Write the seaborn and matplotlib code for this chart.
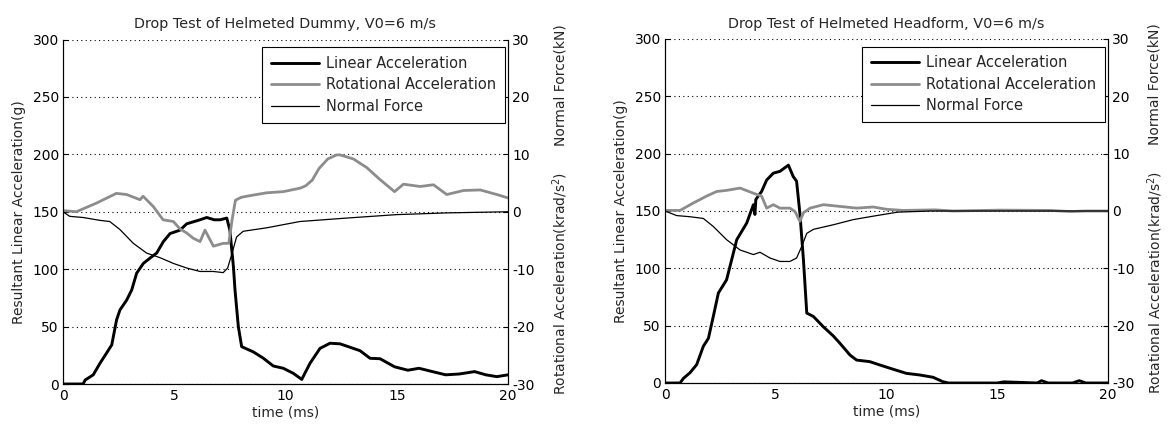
import matplotlib
matplotlib.use("Agg")
import matplotlib.pyplot as plt
import seaborn as sns

# helmeted dummy, V0 = 6 m/s
dummy_lin_t = [0, 0.9, 1.0, 1.36, 1.66, 1.96, 2.19, 2.41, 2.56, 2.86, 3.09, 3.31, 3.61, 4.0, 4.21,
               4.51, 4.81, 5.26, 5.56, 6.16, 6.46, 6.8, 7.06, 7.36, 7.5, 7.66, 7.73, 7.88, 8.03, 8.55,
               9.0, 9.45, 9.9, 10.35, 10.73, 11.1, 11.55, 12.0, 12.45, 12.9, 13.35, 13.8, 14.25, 14.9,
               15.5, 16.0, 16.6, 17.2, 17.8, 18.5, 19.0, 19.5, 20]
dummy_lin_v = [0, 0, 3.5, 8, 18, 27, 34, 56, 64.5, 73, 82, 96.5, 105, 111, 114,
               124, 131, 134, 139.5, 143, 145, 143, 143, 144.5, 134, 102, 82, 50, 32.5, 28,
               22.5, 15.7, 13.7, 9.3, 4, 18, 31, 35.5, 35, 32, 29, 22.4, 22, 15,
               12, 13.7, 10.8, 8, 8.7, 10.8, 8, 6.4, 8]

dummy_rot_t = [0, 0.6, 1.5, 2.4, 2.86, 3.46, 3.6, 4.06, 4.5, 4.96, 5.26, 5.56, 5.85, 6.16, 6.38,
               6.76, 7.2, 7.45, 7.6, 7.75, 8.0, 8.25, 9.15, 9.9, 10.65, 10.9, 11.2, 11.5, 11.9,
               12.3, 12.45, 13.05, 13.65, 14.25, 14.9, 15.3, 16.05, 16.65, 17.25, 18.0, 18.75,
               19.5, 20]
dummy_rot_v = [0.2, 0, 1.5, 3.2, 3.0, 2.1, 2.7, 0.9, -1.4, -1.7, -3.0, -3.7, -4.6, -5.2, -3.2,
               -6.0, -5.5, -5.5, -1.4, 2.0, 2.5, 2.7, 3.3, 3.5, 4.1, 4.5, 5.5, 7.5, 9.2,
               9.9, 9.9, 9.2, 7.7, 5.6, 3.5, 4.8, 4.4, 4.7, 3.0, 3.7, 3.8,
               3.0, 2.4]

dummy_force_t = [0, 0.3, 0.9, 1.66, 2.1, 2.56, 3.16, 3.76, 4.36, 4.96, 5.56, 6.16, 6.76, 7.2,
                 7.4, 7.6, 7.8, 8.1, 9.15, 10.65, 12.75, 15, 17.25, 20]
dummy_force_v = [0, -0.8, -1.0, -1.5, -1.7, -3.1, -5.5, -7.2, -8.0, -9.0, -9.8, -10.4, -10.4, -10.6,
                 -9.8, -7.2, -4.4, -3.4, -2.8, -1.7, -1.1, -0.5, -0.2, 0]

# helmeted headform, V0 = 6 m/s
head_lin_t = [0, 0.68, 0.83, 1.13, 1.43, 1.73, 1.96, 2.18, 2.41, 2.78, 3.24, 3.69, 3.99, 4.06,
              4.1, 4.36, 4.59, 4.89, 5.19, 5.57, 5.79, 5.94, 6.09, 6.25, 6.4, 6.7, 7.15, 7.6,
              7.9, 8.35, 8.65, 9.25, 9.7, 10.3, 10.9, 11.5, 12.1, 12.55, 12.8, 15.0, 15.3, 16.8,
              17.0, 17.3, 18.4, 18.7, 19.0, 20]
head_lin_v = [0, 0, 4, 9, 16, 32, 39, 58, 78.5, 90, 125, 139.5, 155.5, 147,
              160, 167, 177, 183, 184.6, 190, 180, 176, 148, 107.5, 61, 58, 49, 41,
              34.6, 24.4, 20, 18.6, 15.7, 12, 8.4, 7, 5, 1.1, 0, 0, 1, 0,
              2, 0, 0, 2, 0, 0]

head_rot_t = [0, 0.68, 1.28, 1.88, 2.33, 2.78, 3.39, 3.99, 4.36, 4.59, 4.89, 5.19, 5.64, 5.87,
              6.09, 6.25, 6.55, 7.15, 7.9, 8.65, 9.4, 10.0, 10.75, 12.2, 13.0, 15.1, 17.4,
              18.3, 19.0, 20]
head_rot_v = [0.1, 0.1, 1.4, 2.6, 3.4, 3.6, 4.0, 3.1, 2.6, 0.5, 1.1, 0.5, 0.5, -0.1,
              -1.8, -0.3, 0.5, 1.1, 0.8, 0.5, 0.7, 0.3, 0.1, 0.2, 0, 0.15, 0.1,
              -0.1, 0, 0]

head_force_t = [0, 0.53, 1.13, 1.73, 2.18, 2.78, 3.39, 3.99, 4.29, 4.74, 5.19, 5.64, 5.94, 6.17,
                6.4, 6.7, 7.6, 8.5, 9.4, 10.5, 12, 20]
head_force_v = [0, -0.8, -1.0, -1.3, -2.7, -5.0, -6.8, -7.6, -7.2, -8.2, -8.8, -8.8, -8.2, -6.2,
                -3.9, -3.2, -2.4, -1.5, -0.9, -0.2, 0, 0]

titles = ["Drop Test of Helmeted Dummy, V0=6 m/s", "Drop Test of Helmeted Headform, V0=6 m/s"]

sns.set_style("white")
plt.rcParams["font.family"] = ["DejaVu Sans"]
plt.rcParams["axes.unicode_minus"] = False
FS = 10


def draw_panel(ax, title, lin_t, lin_v, rot_t, rot_v, frc_t, frc_v, lab_x):
    ax2 = ax.twinx()
    sns.lineplot(x=lin_t, y=lin_v, ax=ax, color="black", linewidth=2.1,
                 label="Linear Acceleration", legend=False)
    sns.lineplot(x=rot_t, y=rot_v, ax=ax2, color="#8c8c8c", linewidth=2.0,
                 label="Rotational Acceleration", legend=False)
    sns.lineplot(x=frc_t, y=frc_v, ax=ax2, color="black", linewidth=0.9,
                 label="Normal Force", legend=False)

    ax.set_xlim(0, 20)
    ax.set_ylim(0, 300)
    ax2.set_ylim(-30, 30)
    ax.set_xticks([0, 5, 10, 15, 20])
    ax.set_yticks(range(0, 301, 50))
    ax2.set_yticks(range(-30, 31, 10))

    ax.grid(axis="y", color="black", linestyle=(0, (1, 3)), linewidth=0.8)
    ax.grid(axis="x", visible=False)
    ax2.grid(False)
    for a in (ax, ax2):
        a.spines["top"].set_visible(False)
        for s in a.spines.values():
            s.set_color("black")
            s.set_linewidth(0.8)
        a.tick_params(direction="in", length=3.5, width=0.8, colors="black", labelsize=FS)
    ax.tick_params(axis="y", pad=3)
    ax2.tick_params(axis="y", pad=3)

    ax.set_title(title, fontsize=10.4, pad=8)
    ax.set_xlabel("time (ms)", fontsize=FS, labelpad=2)
    ax.set_ylabel("Resultant Linear Acceleration(g)", fontsize=FS)
    ax.yaxis.set_label_coords(-0.083, 0.5)
    ax2.set_ylabel("")
    ax2.text(lab_x, 0.868, "Normal Force(kN)", transform=ax2.transAxes, rotation=90,
             ha="center", va="center", fontsize=FS)
    ax2.text(lab_x, 0.293, r"Rotational Acceleration(krad/s$\mathregular{^2}$)",
             transform=ax2.transAxes, rotation=90, ha="center", va="center", fontsize=FS)

    h1, l1 = ax.get_legend_handles_labels()
    h2, l2 = ax2.get_legend_handles_labels()
    leg = ax2.legend(h1 + h2, l1 + l2, loc="upper right", bbox_to_anchor=(0.993, 0.978),
                     borderaxespad=0, fontsize=10.5, frameon=True, fancybox=False,
                     framealpha=1, edgecolor="black", handlelength=3.3, handletextpad=0.5,
                     labelspacing=0.45, borderpad=0.6)
    leg.get_frame().set_linewidth(0.8)


fig = plt.figure(figsize=(11.69, 4.28), dpi=100)
ax_l = fig.add_axes([63 / 1169, 1 - 384 / 428, 445 / 1169, 344.5 / 428])
ax_r = fig.add_axes([665 / 1169, 1 - 383 / 428, 443 / 1169, 344 / 428])

draw_panel(ax_l, titles[0], dummy_lin_t, dummy_lin_v, dummy_rot_t, dummy_rot_v,
           dummy_force_t, dummy_force_v, 1.117)
draw_panel(ax_r, titles[1], head_lin_t, head_lin_v, head_rot_t, head_rot_v,
           head_force_t, head_force_v, 1.106)

fig.savefig("out.png", dpi=100)
